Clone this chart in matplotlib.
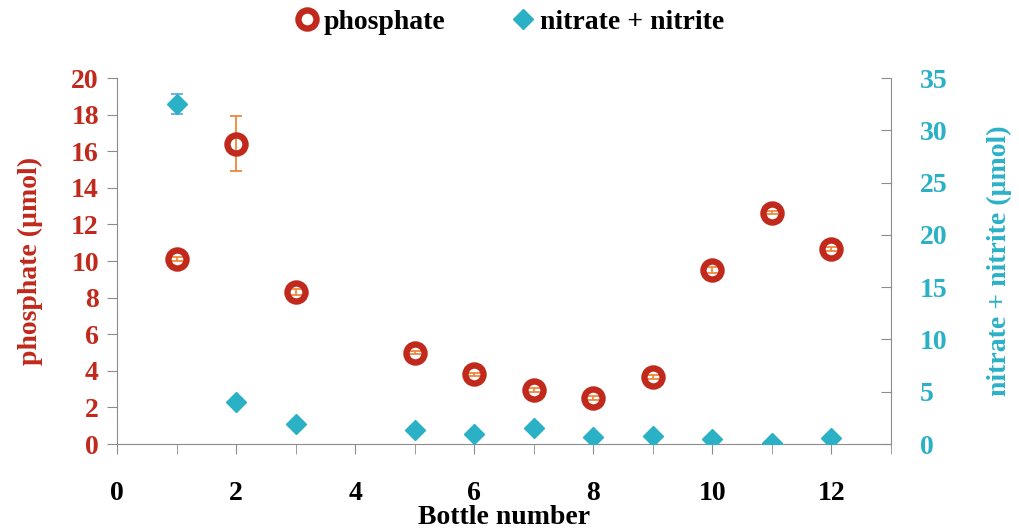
import matplotlib.pyplot as plt
from matplotlib.ticker import MultipleLocator, NullFormatter

plt.rcParams['font.family'] = ['Liberation Serif', 'DejaVu Serif']
plt.rcParams['font.weight'] = 'bold'
plt.rcParams['axes.labelweight'] = 'bold'

bottle = [1, 2, 3, 5, 6, 7, 8, 9, 10, 11, 12]
phosphate = [10.1, 16.4, 8.3, 5.0, 3.8, 2.95, 2.5, 3.65, 9.5, 12.65, 10.65]
phosphate_err = [0.1, 1.5, 0.15, 0.1, 0.1, 0.1, 0.1, 0.1, 0.15, 0.1, 0.1]
nitrate = [32.5, 4.0, 1.9, 1.3, 0.95, 1.5, 0.65, 0.75, 0.45, 0.1, 0.55]
nitrate_err = [0.95, 0.1, 0.1, 0.1, 0.1, 0.1, 0.1, 0.1, 0.1, 0.1, 0.1]

red = '#C0291B'
teal = '#2BB1C6'
orange = '#F0883E'
lblue = '#63A9E3'
gray = '#8C8C8C'

fig = plt.figure(figsize=(10.2, 5.3), dpi=100)
ax = fig.add_axes([117/1020, 1-444/530, (891-117)/1020, (444-78)/530])
ax2 = ax.twinx()

ax.errorbar(bottle, phosphate, yerr=phosphate_err, fmt='none', ecolor=orange,
            elinewidth=1.3, capsize=4, capthick=1.3, zorder=2)
h1, = ax.plot(bottle, phosphate, 'o', ms=13, mfc='none', mec=red, mew=4.6,
              zorder=3, label='phosphate')

ax2.errorbar(bottle, nitrate, yerr=nitrate_err, fmt='none', ecolor=lblue,
             elinewidth=1.3, capsize=4, capthick=1.3, zorder=2)
h2, = ax2.plot(bottle, nitrate, 'D', ms=10, color=teal, mec=teal, zorder=3,
               label='nitrate + nitrite')

ax.set_xlim(0, 13)
ax.set_ylim(0, 20)
ax2.set_ylim(0, 35)
ax.set_xticks(range(0, 13, 2))
ax.xaxis.set_minor_locator(MultipleLocator(1))
ax.xaxis.set_minor_formatter(NullFormatter())
ax.set_yticks(range(0, 21, 2))
ax2.set_yticks(range(0, 36, 5))

for a in (ax, ax2):
    for s in a.spines.values():
        s.set_color(gray)
    a.spines['top'].set_visible(False)
ax.spines['right'].set_visible(False)
ax2.spines['left'].set_visible(False)
ax2.spines['bottom'].set_visible(False)

ax.tick_params(axis='x', which='both', direction='out', length=7, color=gray,
               labelsize=20, labelcolor='black', pad=20)
ax.tick_params(axis='y', direction='out', length=7, color=gray,
               labelsize=20, labelcolor=red, pad=6)
ax2.tick_params(axis='y', direction='in', length=7, color=gray,
                labelsize=20, labelcolor=teal, pad=21)

ax.set_xlabel('Bottle number', fontsize=20, labelpad=-1)
ax.set_ylabel('phosphate (µmol)', fontsize=20, color=red, labelpad=20)
ax2.set_ylabel('nitrate + nitrite (µmol)', fontsize=20, color=teal, labelpad=28)

leg = fig.legend(handles=[h1, h2], loc='upper center', bbox_to_anchor=(0.497, 1.03),
                 ncol=2, frameon=False, fontsize=20, handletextpad=0.0,
                 columnspacing=2.2, handlelength=1.2)

fig.savefig('out.png', dpi=100)
